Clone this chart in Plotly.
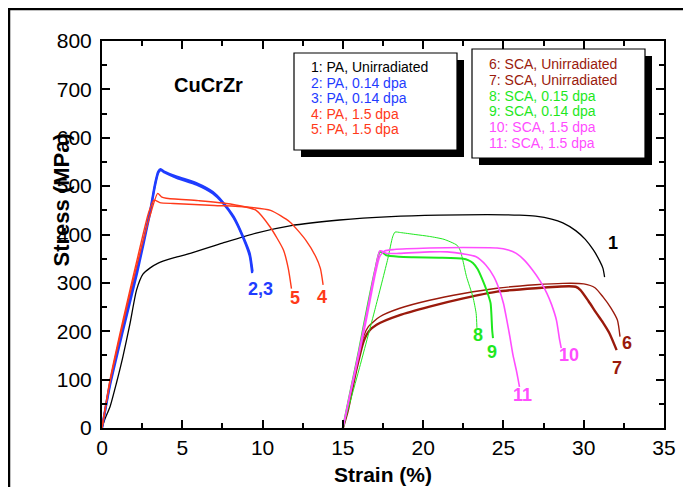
import plotly.graph_objects as go

# ---------------- data (strain %, stress MPa) ----------------
c1_x = [0, 0.2, 0.5, 0.9, 1.3, 1.75, 2.15, 2.55, 3.0, 3.5, 4.5, 5.5, 7.5, 9.6, 11.7, 14.8, 18, 21, 24, 26, 27, 28, 28.7, 29.5, 30.1, 30.6, 31.0, 31.2, 31.3]
c1_y = [0, 20, 44, 93, 147, 217, 285, 318, 331, 341, 352, 361, 382, 403, 418, 430, 437, 440, 441, 440, 438, 432, 424, 408, 390, 368, 345, 330, 312]

c2_x = [0, 0.5, 1.3, 2.2, 3.0, 3.3, 3.5, 3.65, 3.9, 4.65, 5.9, 6.9, 7.5, 8.2, 8.8, 9.2, 9.38]
c2_y = [0, 93, 209, 330, 450, 505, 530, 535, 530, 520, 506, 488, 468, 437, 395, 361, 323]
c3_x = [0, 0.5, 1.3, 2.2, 3.0, 3.3, 3.5, 3.65, 3.9, 4.65, 5.9, 6.9, 7.5, 8.2, 8.8, 9.2, 9.35]
c3_y = [0, 88, 200, 322, 445, 500, 527, 533, 528, 517, 503, 485, 466, 434, 392, 355, 320]

c4_x = [0, 0.5, 1.3, 2.2, 2.9, 3.24, 3.6, 4.43, 7, 9, 10.5, 11.7, 12.7, 13.3, 13.6, 13.77]
c4_y = [0, 100, 222, 350, 445, 471, 466, 464, 460, 457, 450, 426, 388, 355, 330, 296]
c5_x = [0, 0.5, 1.3, 2.2, 3.0, 3.47, 3.7, 4.0, 6, 8, 9.6, 10.46, 11.3, 11.6, 11.8]
c5_y = [0, 95, 215, 340, 440, 485, 478, 475, 470, 463, 450, 416, 368, 330, 288]

c6_x = [15, 15.3, 15.8, 16.3, 16.6, 17.3, 18.5, 20.4, 22.5, 24.6, 27, 28.7, 30.0, 30.7, 31.2, 31.7, 32.1, 32.26]
c6_y = [0, 40, 125, 190, 210, 230, 247, 264, 278, 289, 296, 299, 298, 290, 271, 248, 223, 189]
c7_x = [15, 15.3, 15.8, 16.3, 16.7, 17.3, 18.5, 20.4, 22.5, 24.6, 27, 29.1, 29.5, 29.8, 30.3, 30.8, 31.2, 31.6, 32.05]
c7_y = [0, 35, 115, 180, 203, 217, 233, 251, 268, 282, 289, 293, 292, 285, 262, 237, 218, 196, 161]

c8_x = [15.0, 16.0, 17.0, 17.8, 18.1, 18.25, 18.6, 19.5, 20.4, 21.3, 22.1, 22.3, 22.45, 22.7, 23.1, 23.3, 23.35]
c8_y = [0, 120, 245, 350, 395, 405, 404, 400, 396, 390, 378, 368, 350, 313, 271, 237, 207]
c9_x = [15, 15.5, 16, 16.5, 17.0, 17.3, 17.5, 17.7, 18.5, 19.4, 21, 22.5, 22.8, 23.1, 23.4, 23.7, 24.0, 24.2, 24.3, 24.35]
c9_y = [0, 80, 160, 245, 325, 364, 362, 357, 354, 353, 352, 350, 347, 341, 328, 306, 280, 258, 202, 186]

c10_x = [15, 15.5, 16, 16.5, 17.0, 17.3, 17.6, 18.2, 20.4, 22.5, 24.6, 25.3, 25.8, 26.3, 26.8, 27.3, 27.7, 28.0, 28.3, 28.5, 28.6]
c10_y = [0, 75, 150, 230, 315, 355, 366, 369, 372, 373, 372, 368, 361, 347, 327, 303, 279, 255, 223, 182, 165]
c11_x = [15, 15.5, 16, 16.5, 17.0, 17.3, 17.5, 17.7, 18.5, 20.4, 21.5, 22.5, 23.3, 23.9, 24.4, 24.7, 25.0, 25.2, 25.4, 25.6, 25.8, 26.0]
c11_y = [0, 80, 158, 240, 325, 366, 365, 361, 361, 364, 364, 360, 354, 337, 313, 290, 258, 225, 189, 150, 120, 85]

legend_left = ["1: PA, Unirradiated", "2: PA, 0.14 dpa", "3: PA, 0.14 dpa", "4: PA, 1.5 dpa", "5: PA, 1.5 dpa"]
legend_right = ["6: SCA, Unirradiated", "7: SCA, Unirradiated", "8: SCA, 0.15 dpa", "9: SCA, 0.14 dpa", "10: SCA, 1.5 dpa", "11: SCA, 1.5 dpa"]

curve_labels = ["1", "2,3", "5", "4", "8", "9", "10", "11", "6", "7"]
label_x = [31.8, 9.9, 12.0, 13.7, 23.4, 24.3, 29.1, 26.2, 32.7, 32.1]
label_y = [382, 287, 269, 271, 192, 157, 151, 68, 176, 124]

x_ticks = [0, 5, 10, 15, 20, 25, 30, 35]
y_ticks = [0, 100, 200, 300, 400, 500, 600, 700, 800]

# ---------------- styling ----------------
BLACK = "#000000"
BLUE = "#1f3cff"
RED = "#ff3a1a"
DRED = "#9a1a0c"
GREEN = "#1ee81e"
PINK = "#ff4dff"

OFF = 8  # page body margin
W, H = 691 - OFF, 487 - OFF
# plot area in page pixels
PL, PR, PT, PB = 102, 664, 41, 428
L, R, T, B = PL - OFF, PR - OFF, PT - OFF, PB - OFF


def px(x):
    return (x - PL) / (PR - PL)


def py(y):
    return (PB - y) / (PB - PT)


FONT = "Liberation Sans, Arial, sans-serif"

fig = go.Figure()

curves = [
    (c1_x, c1_y, BLACK, 1.3),
    (c2_x, c2_y, BLUE, 2.2),
    (c3_x, c3_y, BLUE, 2.2),
    (c4_x, c4_y, RED, 1.4),
    (c5_x, c5_y, RED, 1.4),
    (c6_x, c6_y, DRED, 1.4),
    (c7_x, c7_y, DRED, 2.4),
    (c8_x, c8_y, GREEN, 1.0),
    (c9_x, c9_y, GREEN, 2.0),
    (c10_x, c10_y, PINK, 1.6),
    (c11_x, c11_y, PINK, 1.6),
]
for xs, ys, col, w in curves:
    fig.add_trace(go.Scatter(x=xs, y=ys, mode="lines",
                             line=dict(color=col, width=w, shape="spline", smoothing=0.6),
                             showlegend=False, hoverinfo="skip"))

label_colors = [BLACK, BLUE, RED, RED, GREEN, GREEN, PINK, PINK, DRED, DRED]
for t, x, y, c in zip(curve_labels, label_x, label_y, label_colors):
    fig.add_annotation(x=x, y=y, text="<b>%s</b>" % t, showarrow=False,
                       font=dict(family=FONT, size=18, color=c))

# outer frame
fig.add_shape(type="rect", xref="paper", yref="paper",
              x0=px(OFF + 1), x1=px(720), y0=py(OFF + 1), y1=py(520),
              line=dict(color=BLACK, width=2.5), layer="below")

# legend boxes with shadows
boxes = [(294, 53, 457, 150), (472, 49, 645, 158)]
for x0, y0, x1, y1 in boxes:
    fig.add_shape(type="rect", xref="paper", yref="paper",
                  x0=px(x0 + 7), x1=px(x1 + 7), y0=py(y0 + 7), y1=py(y1 + 7),
                  line=dict(color=BLACK, width=0), fillcolor=BLACK)
    fig.add_shape(type="rect", xref="paper", yref="paper",
                  x0=px(x0), x1=px(x1), y0=py(y0), y1=py(y1),
                  line=dict(color=BLACK, width=1.2), fillcolor="white")

left_colors = [BLACK, BLUE, BLUE, RED, RED]
left_y = [67, 82.5, 98, 113.5, 129]
for t, c, yy in zip(legend_left, left_colors, left_y):
    fig.add_annotation(xref="paper", yref="paper", x=px(309), y=py(yy), text=t,
                       showarrow=False, xanchor="left", yanchor="middle",
                       font=dict(family=FONT, size=14, color=c))

right_colors = [DRED, DRED, GREEN, GREEN, PINK, PINK]
right_y = [64, 79.8, 95.6, 111.4, 127.2, 143]
for t, c, yy in zip(legend_right, right_colors, right_y):
    fig.add_annotation(xref="paper", yref="paper", x=px(487), y=py(yy), text=t,
                       showarrow=False, xanchor="left", yanchor="middle",
                       font=dict(family=FONT, size=14, color=c))

fig.add_annotation(xref="paper", yref="paper", x=px(172), y=py(72), text="<b>CuCrZr</b>",
                   showarrow=False, font=dict(family=FONT, size=20, color=BLACK))
fig.add_annotation(xref="paper", yref="paper", x=px(383), y=py(474), text="<b>Strain (%)</b>",
                   showarrow=False, yanchor="middle", font=dict(family=FONT, size=21, color=BLACK))
fig.add_annotation(xref="paper", yref="paper", x=px(47), y=py(200), text="<b>Stress (MPa)</b>",
                   showarrow=False, textangle=-90, font=dict(family=FONT, size=22, color=BLACK))

axis_common = dict(showgrid=False, zeroline=False, showline=True, linecolor=BLACK, linewidth=2,
                   mirror="ticks", ticks="inside", ticklen=8, tickwidth=1.5, tickcolor=BLACK,
                   tickfont=dict(family=FONT, size=21, color=BLACK))

fig.update_layout(
    width=W, height=H,
    margin=dict(l=L, r=W - R, t=T, b=H - B),
    paper_bgcolor="white", plot_bgcolor="white",
    xaxis=dict(range=[0, 35], tickvals=x_ticks, ticktext=[str(v) for v in x_ticks],
               minor=dict(ticks="inside", ticklen=5, tickwidth=1.5, tickcolor=BLACK, dtick=2.5, tick0=0),
               **axis_common),
    yaxis=dict(range=[0, 800], tickvals=y_ticks, ticktext=[str(v) for v in y_ticks],
               minor=dict(ticks="inside", ticklen=5, tickwidth=1.5, tickcolor=BLACK, dtick=50, tick0=0),
               ticklabelstandoff=4,
               **axis_common),
)

fig.write_html("out.html")
